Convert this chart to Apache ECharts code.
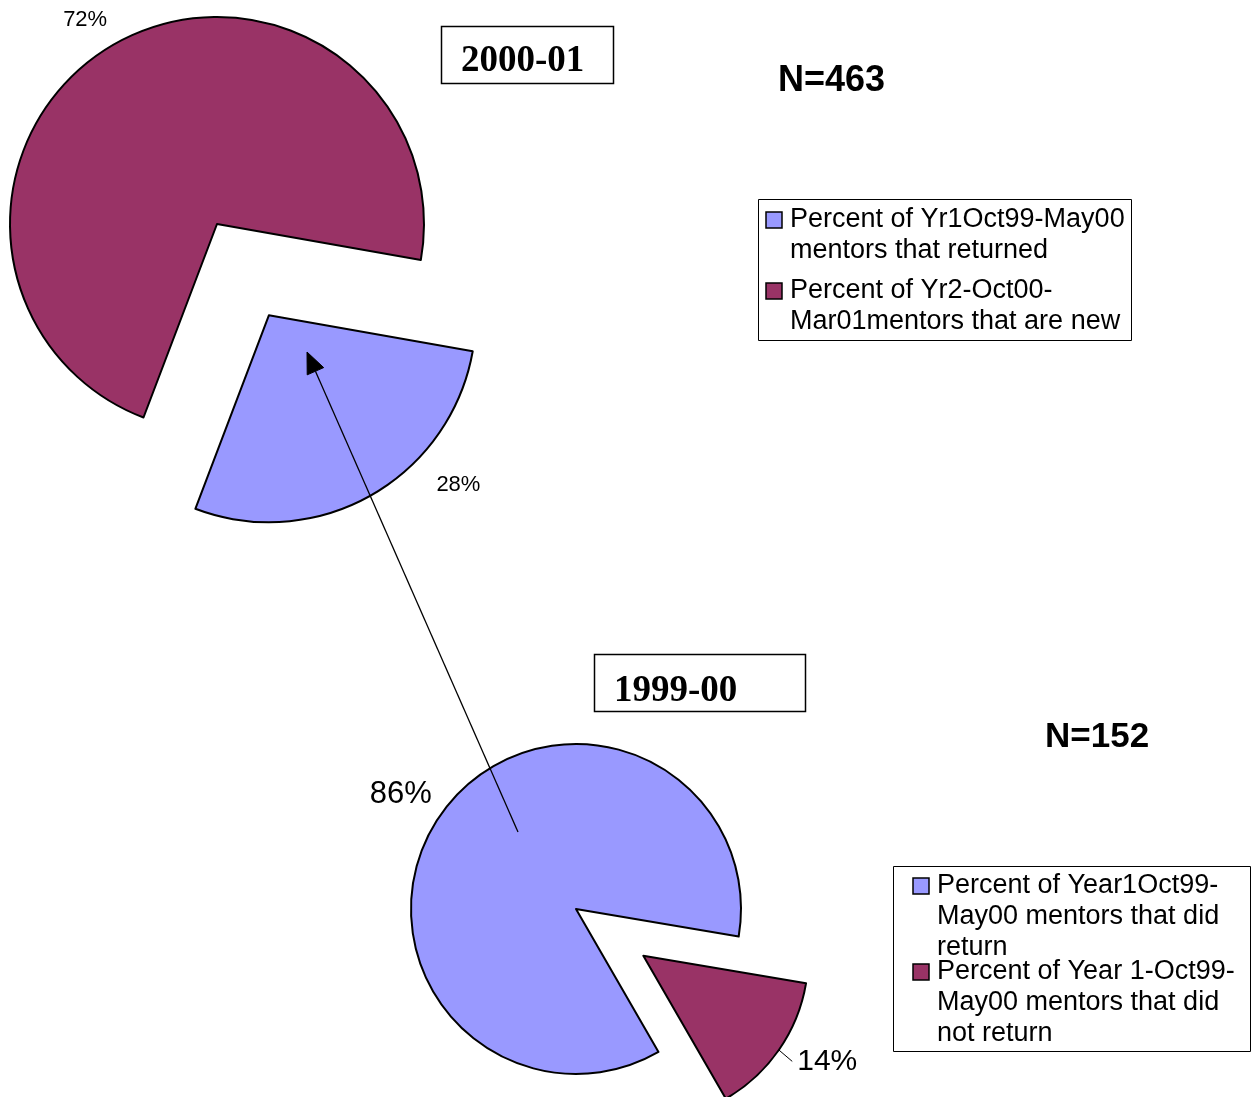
<!DOCTYPE html>
<html>
<head>
<meta charset="utf-8">
<script src="https://cdn.jsdelivr.net/npm/echarts@6/dist/echarts.min.js"></script>
<style>
  html, body { margin: 0; padding: 0; background: #ffffff; }
  #chart { width: 1259px; height: 1097px; }
</style>
</head>
<body>
<div id="chart"></div>
<script>
// ---------------- data ----------------
const topCategories = [
  'Percent of Yr1Oct99-May00\nmentors that returned',
  'Percent of Yr2-Oct00-\nMar01mentors that are new'
];
const topValues = [28, 72];

const bottomCategories = [
  'Percent of Year1Oct99-\nMay00 mentors that did\nreturn',
  'Percent of Year 1-Oct99-\nMay00 mentors that did\nnot return'
];
const bottomValues = [86, 14];

const periodTitles = ['2000-01', '1999-00'];
const sampleSizes = ['N=463', 'N=152'];

// ---------------- styles ----------------
const sliceColors = ['#9999FF', '#993366'];
const SANS = '"Liberation Sans", Arial, sans-serif';
const SERIF = '"Liberation Serif", "Times New Roman", serif';

// per-slice label placement (library label layout params)
const topLabelCfg = [
  { selected: true, fontSize: 22, length: -11.6, length2: 66, line: false },
  { selected: false, fontSize: 22, length: 27.5, length2: -11, line: false }
];
const bottomLabelCfg = [
  { selected: false, fontSize: 31, length: 36.2, length2: -26, line: false },
  { selected: true, fontSize: 30, length: 20, length2: -3, line: true }
];

function buildData(names, values, cfg) {
  return names.map((name, i) => ({
    name: name,
    value: values[i],
    selected: cfg[i].selected,
    itemStyle: { color: sliceColors[i] },
    label: {
      show: true,
      position: 'outside',
      fontSize: cfg[i].fontSize,
      fontFamily: SANS,
      color: '#000',
      distanceToLabelLine: 5
    },
    labelLine: {
      show: cfg[i].line,
      length: cfg[i].length,
      length2: cfg[i].length2,
      smooth: false,
      lineStyle: { color: '#000', width: 1 }
    }
  }));
}

function pieSeries(center, radius, startAngle, offset, names, values, cfg) {
  return {
    type: 'pie',
    center: center,
    radius: radius,
    startAngle: startAngle,
    clockwise: true,
    selectedMode: 'multiple',
    selectedOffset: offset,
    avoidLabelOverlap: false,
    silent: true,
    animation: false,
    itemStyle: { borderColor: '#000', borderWidth: 2 },
    select: { itemStyle: { borderColor: '#000', borderWidth: 2 } },
    emphasis: { disabled: true },
    label: {
      formatter: p => Math.round(p.percent) + '%'
    },
    data: buildData(names, values, cfg)
  };
}

// ---------------- graphic annotations ----------------
function legendGraphic(box, textX, iconX, firstCenters, names) {
  const els = [{
    type: 'rect', z: 100,
    shape: { x: box[0], y: box[1], width: box[2], height: box[3] },
    style: { fill: '#fff', stroke: '#000', lineWidth: 1 }
  }];
  names.forEach((name, i) => {
    els.push({
      type: 'rect', z: 101,
      shape: { x: iconX, y: firstCenters[i] - 8, width: 16, height: 16 },
      style: { fill: sliceColors[i], stroke: '#000', lineWidth: 1.5 }
    });
    els.push({
      type: 'text', z: 101, x: textX, y: firstCenters[i] - 15.5,
      style: {
        text: name, fontSize: 27, fontFamily: SANS, lineHeight: 31,
        fill: '#000', align: 'left', verticalAlign: 'top'
      }
    });
  });
  return els;
}

function titleBox(box, textX, textY, text) {
  return [
    {
      type: 'rect', z: 100,
      shape: { x: box[0], y: box[1], width: box[2], height: box[3] },
      style: { fill: '#fff', stroke: '#000', lineWidth: 1.5 }
    },
    {
      type: 'text', z: 101, x: textX, y: textY,
      style: {
        text: text, fontSize: 37, fontWeight: 'bold', fontFamily: SERIF,
        fill: '#000', align: 'left', verticalAlign: 'middle'
      }
    }
  ];
}

function arrow(from, tip) {
  const dx = tip[0] - from[0], dy = tip[1] - from[1];
  const len = Math.sqrt(dx * dx + dy * dy);
  const ux = dx / len, uy = dy / len;
  const headLen = 21, halfW = 9;
  const bx = tip[0] - ux * headLen, by = tip[1] - uy * headLen;
  const nx = -uy, ny = ux;
  return [
    {
      type: 'line', z: 110,
      shape: { x1: from[0], y1: from[1], x2: bx, y2: by },
      style: { stroke: '#000', lineWidth: 1.3 }
    },
    {
      type: 'polygon', z: 110,
      shape: { points: [tip, [bx + nx * halfW, by + ny * halfW], [bx - nx * halfW, by - ny * halfW]] },
      style: { fill: '#000', stroke: '#000', lineWidth: 1 }
    }
  ];
}

const graphics = [].concat(
  titleBox([441.5, 26.5, 172, 57], 461, 61, periodTitles[0]),
  titleBox([594.5, 654.5, 211, 57], 614, 691, periodTitles[1]),
  [
    { type: 'text', z: 101, x: 778, y: 81,
      style: { text: sampleSizes[0], fontSize: 36, fontWeight: 'bold', fontFamily: SANS, fill: '#000', verticalAlign: 'middle' } },
    { type: 'text', z: 101, x: 1045, y: 737,
      style: { text: sampleSizes[1], fontSize: 35, fontWeight: 'bold', fontFamily: SANS, fill: '#000', verticalAlign: 'middle' } }
  ],
  legendGraphic([758.5, 199.5, 373, 141], 790, 766, [220, 291], topCategories),
  legendGraphic([893.5, 866.5, 357, 185], 937, 913, [886, 972], bottomCategories),
  arrow([518, 832], [307, 352])
);

const chart = echarts.init(document.getElementById('chart'), null, { renderer: 'canvas' });
chart.setOption({
  backgroundColor: '#ffffff',
  animation: false,
  series: [
    pieSeries([217, 224], 207, 350, 105, topCategories, topValues, topLabelCfg),
    pieSeries([576, 909], 165, 300, 82, bottomCategories, bottomValues, bottomLabelCfg)
  ],
  graphic: graphics
});
</script>
</body>
</html>
